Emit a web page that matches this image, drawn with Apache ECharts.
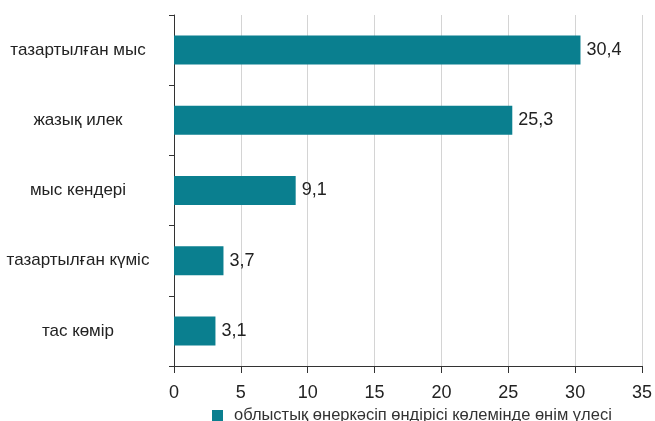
<!DOCTYPE html>
<html>
<head>
<meta charset="utf-8">
<script src="https://cdn.jsdelivr.net/npm/echarts@6/dist/echarts.min.js"></script>
<style>
  html, body { margin: 0; padding: 0; background: #fff; }
  #chart { width: 655px; height: 421px; }
</style>
</head>
<body>
<div id="chart"></div>
<script>
// data
var categories = ['тазартылған мыс', 'жазық илек', 'мыс кендері', 'тазартылған күміс', 'тас көмір']
var shares = [30.4, 25.3, 9.1, 3.7, 3.1]
var seriesName = 'облыстық өнеркәсіп өндірісі көлемінде өнім үлесі'
var xTicks = [0, 5, 10, 15, 20, 25, 30, 35]

var chart = echarts.init(document.getElementById('chart'))
var font = '"Liberation Sans", Arial, sans-serif'

chart.setOption({
  animation: false,
  textStyle: { fontFamily: font },
  grid: {
    left: 174,
    right: 8,
    top: 15,
    bottom: 55,
    containLabel: false
  },
  legend: {
    data: [seriesName],
    left: 207,
    bottom: -8,
    icon: 'rect',
    itemWidth: 11,
    itemHeight: 11,
    textStyle: { fontSize: 16.5, color: '#333', fontFamily: font, padding: [0, 0, 0, 6] }
  },
  xAxis: {
    type: 'value',
    min: xTicks[0],
    max: xTicks[xTicks.length - 1],
    interval: 5,
    axisLine: { show: true, lineStyle: { color: '#333', width: 1 } },
    axisTick: { show: true, length: 7, lineStyle: { color: '#333' } },
    axisLabel: { fontSize: 18, color: '#222', margin: 18, fontFamily: font },
    splitLine: { show: true, lineStyle: { color: '#d4d4d4', width: 1 } }
  },
  yAxis: {
    type: 'category',
    inverse: true,
    data: categories,
    axisLine: { show: true, lineStyle: { color: '#333', width: 1 } },
    axisTick: { show: true, length: 5, inside: false, lineStyle: { color: '#333' } },
    axisLabel: {
      fontSize: 17,
      color: '#222',
      align: 'center',
      margin: 96,
      fontFamily: font
    },
    splitLine: { show: false }
  },
  series: [{
    name: seriesName,
    type: 'bar',
    data: shares,
    barWidth: 29,
    itemStyle: { color: '#0a7f8f' },
    label: {
      show: true,
      position: 'right',
      distance: 6,
      fontSize: 18,
      color: '#222',
      fontFamily: font,
      formatter: function (p) {
        return String(p.value).replace('.', ',')
      }
    }
  }]
})
</script>
</body>
</html>
